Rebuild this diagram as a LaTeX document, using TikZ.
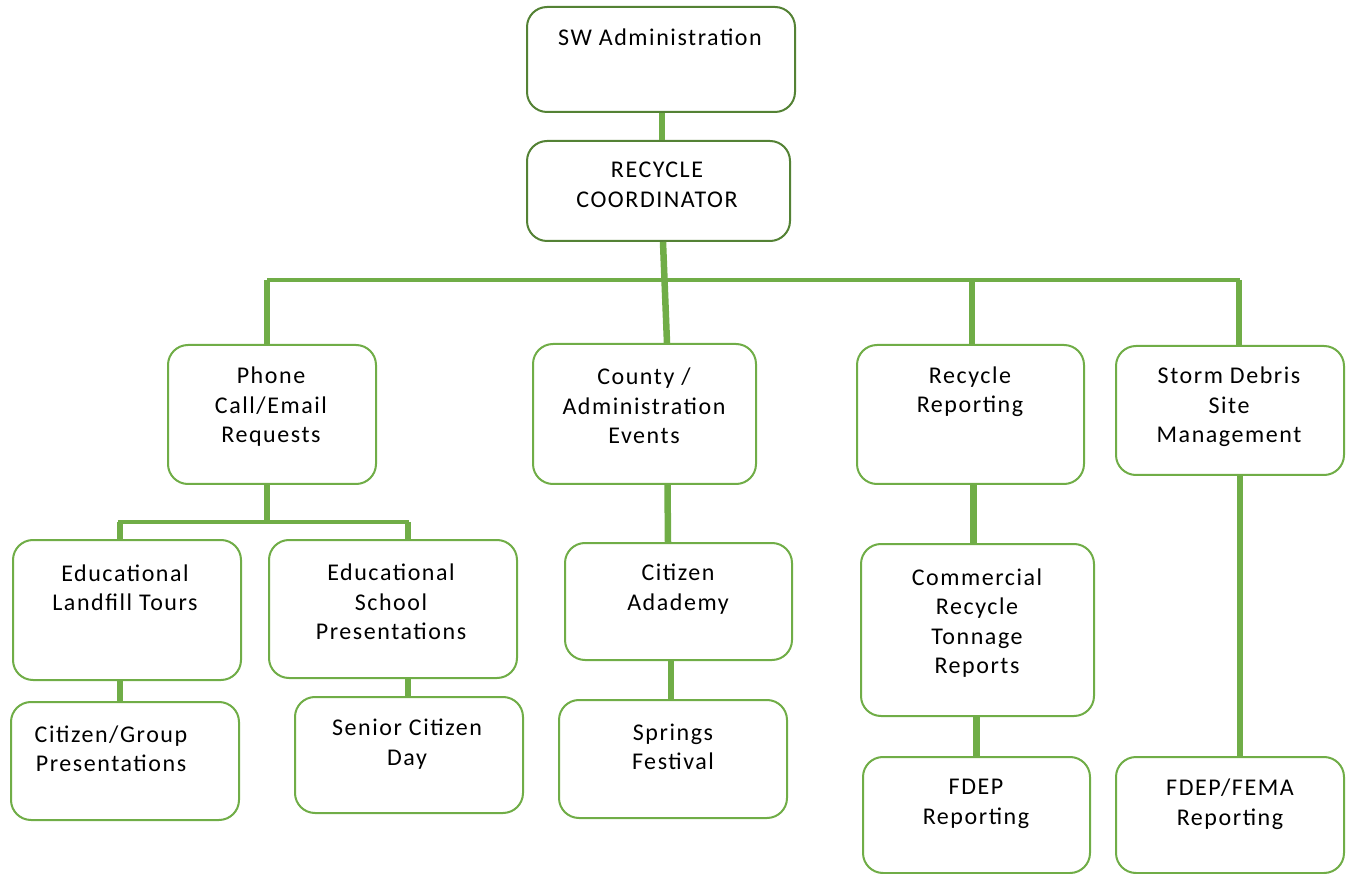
\documentclass[tikz,border=0pt]{standalone}
\usepackage{fontspec}
\setmainfont{Carlito}[LetterSpace=6.5]
\definecolor{boxgreen}{HTML}{70AD47}
\definecolor{topgreen}{HTML}{548235}
\definecolor{linegreen}{HTML}{70AD47}
\begin{document}
\begin{tikzpicture}[x=1pt,y=-1pt,
  orgbox/.style={draw=boxgreen, line width=2pt, rounded corners=20pt, fill=white, inner sep=0pt},
  topbox/.style={orgbox, draw=topgreen},
  lbl/.style={inner sep=0pt, align=center, font=\fontsize{24}{29.5}\selectfont, text=black},
  conn/.style={draw=linegreen, line width=6.5pt},
  bus/.style={draw=linegreen, line width=4.5pt}]
\useasboundingbox (0,0) rectangle (1353,874);
\coordinate (busy) at (0,280);
\coordinate (subbusy) at (0,522);
% boxes
\node[topbox, minimum width=268pt, minimum height=105pt] (sw) at (661,59.5) {};
\node[topbox, minimum width=263pt, minimum height=100pt] (rc) at (658.5,191) {};
\node[orgbox, minimum width=208pt, minimum height=139pt] (ph) at (272,414.5) {};
\node[orgbox, minimum width=223pt, minimum height=140pt] (co) at (644.5,414) {};
\node[orgbox, minimum width=227pt, minimum height=139pt] (rr) at (970.5,414.5) {};
\node[orgbox, minimum width=228pt, minimum height=129pt] (sd) at (1230,410.5) {};
\node[orgbox, minimum width=228pt, minimum height=140pt] (elt) at (127,610) {};
\node[orgbox, minimum width=248pt, minimum height=138pt] (esp) at (393,609) {};
\node[orgbox, minimum width=228pt, minimum height=118pt] (cgp) at (125,761) {};
\node[orgbox, minimum width=228pt, minimum height=116pt] (scd) at (409,755) {};
\node[orgbox, minimum width=227pt, minimum height=117pt] (ca) at (678.5,601.5) {};
\node[orgbox, minimum width=228pt, minimum height=118pt] (sf) at (673,759) {};
\node[orgbox, minimum width=233pt, minimum height=172pt] (crt) at (977.5,630) {};
\node[orgbox, minimum width=227pt, minimum height=116pt] (fd) at (976.5,815) {};
\node[orgbox, minimum width=228pt, minimum height=116pt] (ff) at (1230,815) {};
% connectors
\draw[conn] ([xshift=1pt]sw.south) -- ([xshift=3.5pt]rc.north);
\draw[conn] ([xshift=4.5pt]rc.south) -- ([xshift=22.5pt]co.north);
\draw[bus] ([xshift=-5pt]ph.north |- busy) -- ([xshift=10pt]sd.north |- busy);
\draw[conn] ([xshift=-5pt]ph.north |- busy) -- ([xshift=-5pt]ph.north);
\draw[conn] ([xshift=1.5pt]rr.north |- busy) -- ([xshift=1.5pt]rr.north);
\draw[conn] ([xshift=9pt]sd.north |- busy) -- ([xshift=9pt]sd.north);
\draw[conn] ([xshift=-5pt]ph.south) -- ([xshift=-5pt]ph.south |- subbusy);
\draw[bus] ([xshift=-9pt]elt.north |- subbusy) -- ([xshift=16pt]esp.north |- subbusy);
\draw[conn] ([xshift=-7pt]elt.north |- subbusy) -- ([xshift=-7pt]elt.north);
\draw[conn] ([xshift=15pt]esp.north |- subbusy) -- ([xshift=15pt]esp.north);
\draw[conn] ([xshift=-7pt]elt.south) -- ([xshift=-5pt]cgp.north);
\draw[conn] ([xshift=15pt]esp.south) -- ([xshift=-1pt]scd.north);
\draw[conn] ([xshift=23pt]co.south) -- ([xshift=-10.5pt]ca.north);
\draw[conn] ([xshift=-7.5pt]ca.south) -- ([xshift=-2pt]sf.north);
\draw[conn] ([xshift=3pt]rr.south) -- ([xshift=-4pt]crt.north);
\draw[conn] ([xshift=-1pt]crt.south) -- ([xshift=0pt]fd.north);
\draw[conn] ([xshift=10pt]sd.south) -- ([xshift=10pt]ff.north);
% labels
\node[lbl] (swt) at (660,37) {SW Administration};
\node[lbl] (rct) at (657,185) {RECYCLE\\COORDINATOR};
\node[lbl] (pht) at (271,407) {Phone\\Call/Email\\Requests};
\node[lbl] (cot) at (644,406) {County /\\Administration\\Events};
\node[lbl] (rrt) at (970,391.5) {Recycle\\Reporting};
\node[lbl] (sdt) at (1229,407) {Storm Debris\\Site\\Management};
\node[lbl] (eltt) at (125,588) {Educational\\Landfill Tours};
\node[lbl] (espt) at (391,602) {Educational\\School\\Presentations};
\node[lbl] (cgpt) at (111,749) {Citizen/Group\\Presentations};
\node[lbl] (scdt) at (407,744) {Senior Citizen\\Day};
\node[lbl] (cat) at (678,589) {Citizen\\Adademy};
\node[lbl] (sft) at (673,747) {Springs\\Festival};
\node[lbl] (crtt) at (977,623) {Commercial\\Recycle\\Tonnage\\Reports};
\node[lbl] (fdt) at (976,804) {FDEP\\Reporting};
\node[lbl] (fft) at (1230,804) {FDEP/FEMA\\Reporting};
\end{tikzpicture}
\end{document}
